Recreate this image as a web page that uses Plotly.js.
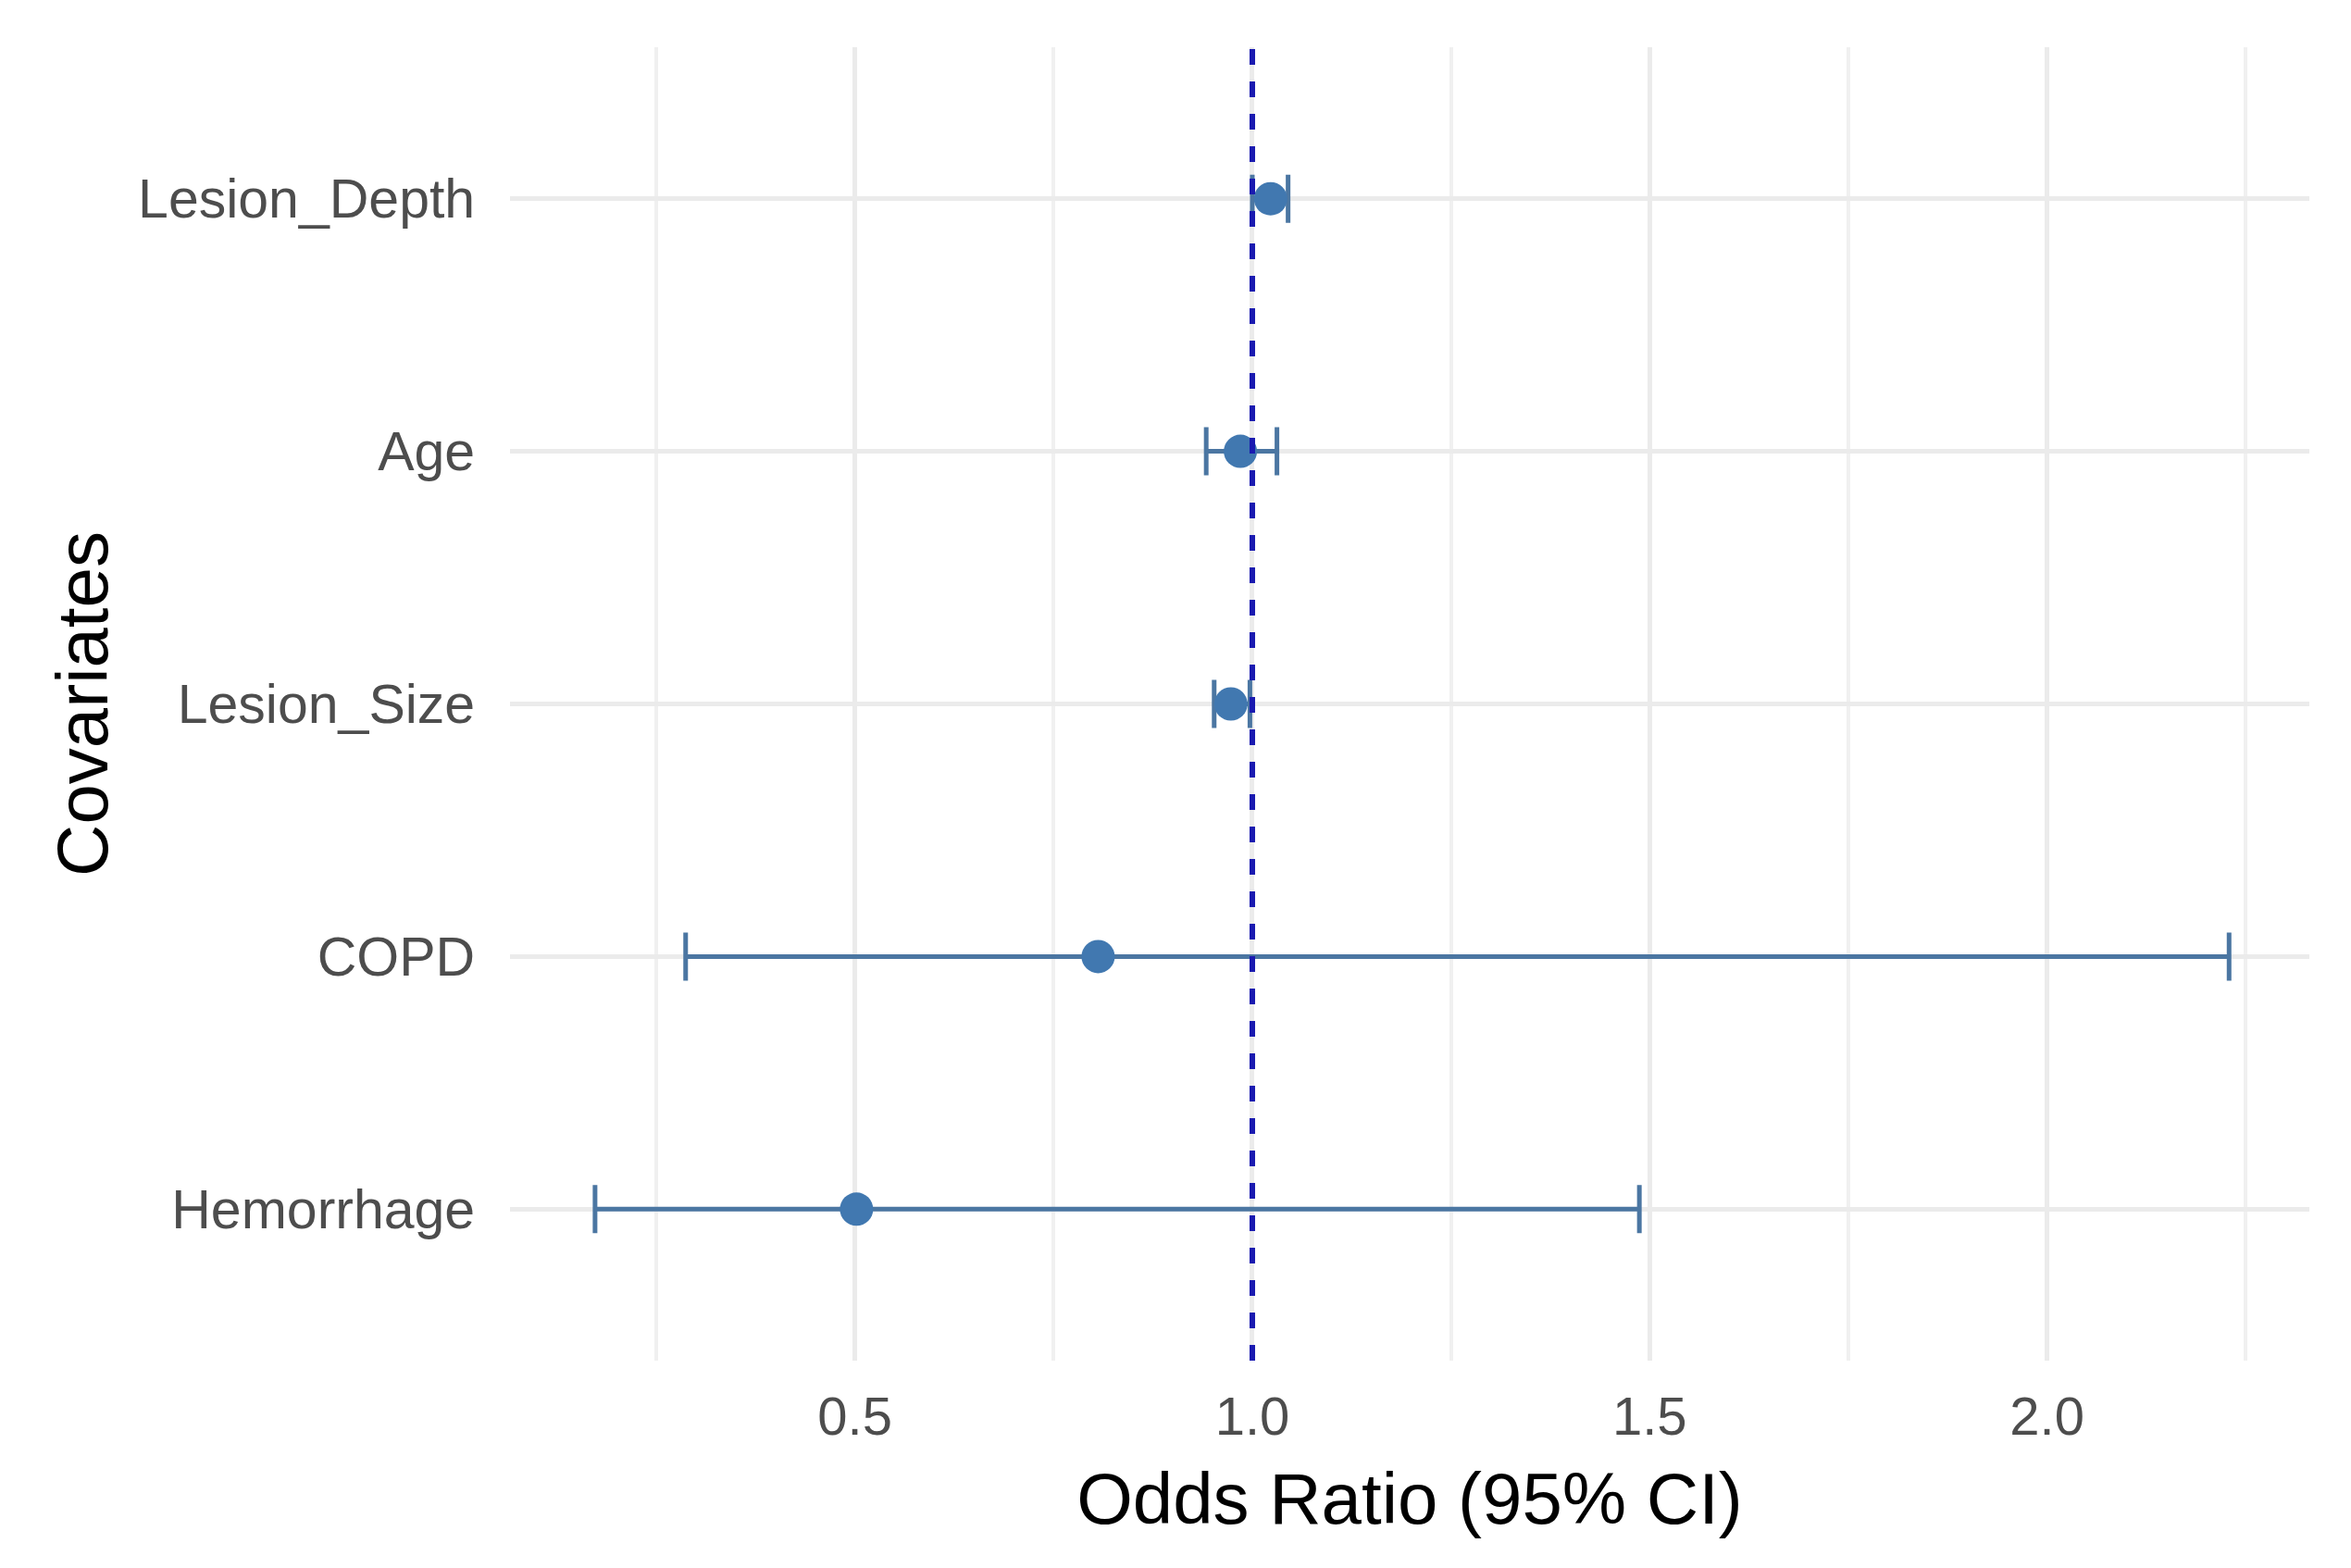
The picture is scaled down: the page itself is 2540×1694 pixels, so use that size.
<!DOCTYPE html>
<html>
<head>
<meta charset="utf-8">
<script src="https://cdn.plot.ly/plotly-3.0.1.min.js"></script>
<style>html,body{margin:0;padding:0;background:#fff;}#chart{width:2540px;height:1694px;}</style>
</head>
<body>
<div id="chart"></div>
<script>
// Covariates (bottom to top as drawn)
const covariates = ["Hemorrhage", "COPD", "Lesion_Size", "Age", "Lesion_Depth"];
const oddsRatio  = [0.502, 0.806, 0.973, 0.985, 1.023];
const ciLower    = [0.173, 0.287, 0.952, 0.942, 1.000];
const ciUpper    = [1.487, 2.229, 0.997, 1.031, 1.045];
const xTickVals  = [0.5, 1.0, 1.5, 2.0];
const xTickText  = ["0.5", "1.0", "1.5", "2.0"];
const refValue   = 1.0;

const errPlus  = oddsRatio.map((v, i) => ciUpper[i] - v);
const errMinus = oddsRatio.map((v, i) => v - ciLower[i]);

const trace = {
  type: "scatter",
  mode: "markers",
  x: oddsRatio,
  y: covariates,
  marker: { color: "#4178b0", size: 36, line: { width: 0 } },
  error_x: {
    type: "data",
    symmetric: false,
    array: errPlus,
    arrayminus: errMinus,
    color: "#4b76a2",
    thickness: 5,
    width: 26
  },
  hoverinfo: "x+y",
  showlegend: false
};

const layout = {
  width: 2540,
  height: 1694,
  paper_bgcolor: "#ffffff",
  plot_bgcolor: "#ffffff",
  margin: { l: 551, r: 45, t: 51, b: 224, pad: 0 },
  font: { family: "Liberation Sans, Arial, sans-serif", color: "#4d4d4d" },
  xaxis: {
    range: [0.066, 2.330],
    tickvals: xTickVals,
    ticktext: xTickText,
    ticks: "outside",
    ticklen: 9,
    tickcolor: "rgba(0,0,0,0)",
    tickfont: { size: 58, color: "#4d4d4d" },
    showgrid: true,
    gridcolor: "#ebebeb",
    gridwidth: 5,
    minor: { tickvals: [0.25, 0.75, 1.25, 1.75, 2.25], showgrid: true, gridcolor: "#f0f0f0", gridwidth: 4, ticks: "" },
    zeroline: false,
    showline: false,
    automargin: false,
    title: { text: "Odds Ratio (95% CI)", font: { size: 78, color: "#000000" }, standoff: 30 }
  },
  yaxis: {
    type: "category",
    categoryorder: "array",
    categoryarray: covariates,
    range: [-0.6, 4.6],
    ticks: "outside",
    ticklen: 25,
    tickcolor: "rgba(0,0,0,0)",
    tickfont: { size: 59, color: "#4d4d4d" },
    showgrid: true,
    gridcolor: "#ebebeb",
    gridwidth: 5,
    zeroline: false,
    showline: false,
    automargin: false,
    title: { text: "Covariates", font: { size: 78, color: "#000000" }, standoff: 6 }
  },
  shapes: [{
    type: "line",
    xref: "x", yref: "paper",
    x0: refValue, x1: refValue, y0: 0, y1: 1,
    layer: "above",
    line: { color: "#1a1ab0", width: 6, dash: "17px,18px" }
  }]
};

Plotly.newPlot("chart", [trace], layout, { displayModeBar: false, staticPlot: true });
</script>
</body>
</html>
